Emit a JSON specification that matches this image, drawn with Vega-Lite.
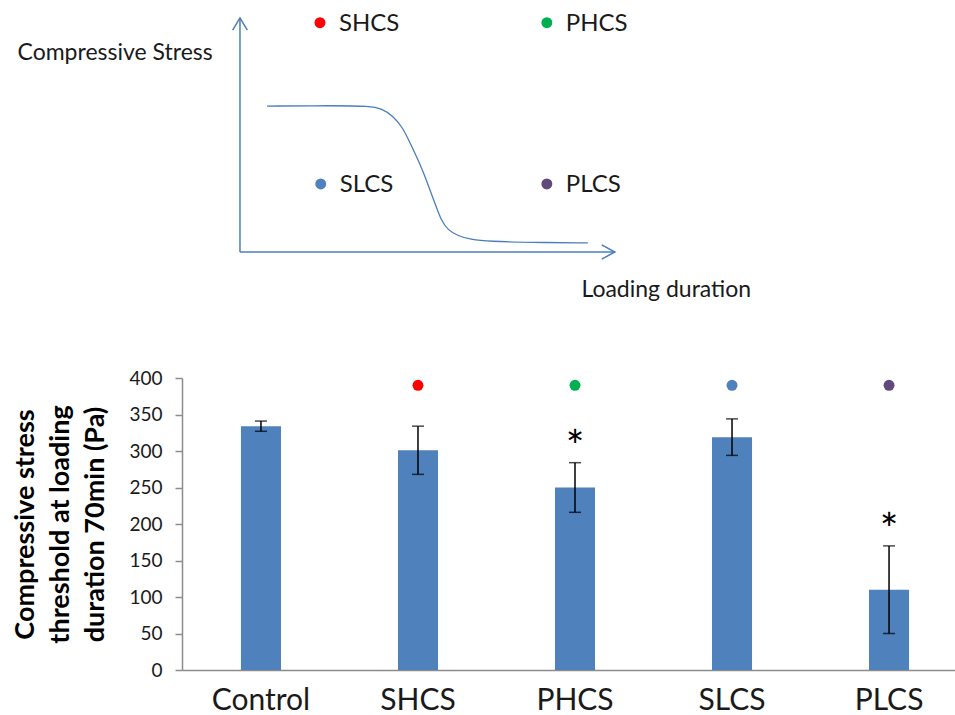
{
  "$schema": "https://vega.github.io/schema/vega-lite/v6.json",
  "padding": {"left": 11, "top": 0, "right": 0, "bottom": 0},
  "spacing": 0,
  "bounds": "flush",
  "config": {
    "view": {"stroke": null},
    "font": "Lato",
    "axisY": {
      "grid": false, "labelOverlap": false,
      "labelFontSize": 19, "labelColor": "#1a1a1a", "labelPadding": 13,
      "tickSize": 7, "tickColor": "#8c8c8c", "tickWidth": 1.5,
      "domainColor": "#8c8c8c", "domainWidth": 1.5,
      "titleFontSize": 27, "titleFontWeight": "bold", "titleColor": "#000000",
      "titleLineHeight": 35, "titleBaseline": "alphabetic", "titleAlign": "center",
      "titleX": -149, "titleY": 146, "titleAngle": -90
    }
  },
  "datasets": {
    "schematic": [
      {"part": "y-axis", "ord": 1, "t": 0, "s": 0},
      {"part": "y-axis", "ord": 2, "t": 0, "s": 92.9},
      {"part": "y-head", "ord": 1, "t": -1.9, "s": 88.0},
      {"part": "y-head", "ord": 2, "t": 0, "s": 92.9},
      {"part": "y-head", "ord": 3, "t": 1.9, "s": 88.0},
      {"part": "x-axis", "ord": 1, "t": 0, "s": 0},
      {"part": "x-axis", "ord": 2, "t": 97.0, "s": 0},
      {"part": "x-head", "ord": 1, "t": 93.6, "s": 2.8},
      {"part": "x-head", "ord": 2, "t": 97.0, "s": 0},
      {"part": "x-head", "ord": 3, "t": 93.6, "s": -2.8}
    ],
    "curve": [
      {"ord": 1, "t": 7.0, "s": 57.9},
      {"ord": 2, "t": 24.1, "s": 58.1},
      {"ord": 3, "t": 33.6, "s": 57.9},
      {"ord": 4, "t": 36.7, "s": 56.9},
      {"ord": 5, "t": 39.6, "s": 54.0},
      {"ord": 6, "t": 42.2, "s": 49.2},
      {"ord": 7, "t": 44.0, "s": 43.3},
      {"ord": 8, "t": 46.6, "s": 34.9},
      {"ord": 9, "t": 48.6, "s": 27.0},
      {"ord": 10, "t": 50.5, "s": 19.1},
      {"ord": 11, "t": 52.0, "s": 12.7},
      {"ord": 12, "t": 53.8, "s": 8.7},
      {"ord": 13, "t": 56.4, "s": 6.4},
      {"ord": 14, "t": 59.5, "s": 5.0},
      {"ord": 15, "t": 64.7, "s": 4.2},
      {"ord": 16, "t": 75.0, "s": 3.8},
      {"ord": 17, "t": 90.0, "s": 3.6}
    ],
    "regimes": [
      {"group": "SHCS", "t": 20.7, "s": 91.0},
      {"group": "PHCS", "t": 79.4, "s": 91.0},
      {"group": "SLCS", "t": 20.9, "s": 27.0},
      {"group": "PLCS", "t": 79.4, "s": 27.0}
    ],
    "captions": [
      {"caption": "Compressive Stress", "t": -32.3, "s": 76.2},
      {"caption": "Loading duration", "t": 110.3, "s": -17.9}
    ],
    "threshold": [
      {"group": "Control", "stress": 334, "low": 327, "high": 341, "sig": ""},
      {"group": "SHCS", "stress": 301, "low": 268, "high": 334, "sig": ""},
      {"group": "PHCS", "stress": 250, "low": 216, "high": 284, "sig": "*"},
      {"group": "SLCS", "stress": 319, "low": 294, "high": 344, "sig": ""},
      {"group": "PLCS", "stress": 110, "low": 50, "high": 170, "sig": "*"}
    ]
  },
  "vconcat": [
    {
      "width": 773,
      "height": 378,
      "layer": [
        {
          "data": {"name": "schematic"},
          "mark": {"type": "line", "color": "#4A7EBB", "strokeWidth": 1.5},
          "encoding": {
            "x": {"field": "t", "type": "quantitative", "scale": {"domain": [-15, 185], "nice": false, "zero": false}, "axis": null},
            "y": {"field": "s", "type": "quantitative", "scale": {"domain": [-50, 100], "nice": false, "zero": false}, "axis": null},
            "detail": {"field": "part"},
            "order": {"field": "ord"}
          }
        },
        {
          "data": {"name": "curve"},
          "mark": {"type": "line", "color": "#4A7EBB", "strokeWidth": 1.3, "interpolate": "basis"},
          "encoding": {
            "x": {"field": "t", "type": "quantitative"},
            "y": {"field": "s", "type": "quantitative"},
            "order": {"field": "ord"}
          }
        },
        {
          "data": {"name": "regimes"},
          "mark": {"type": "circle", "size": 120, "opacity": 1},
          "encoding": {
            "x": {"field": "t", "type": "quantitative"},
            "y": {"field": "s", "type": "quantitative"},
            "color": {
              "field": "group", "type": "nominal", "legend": null,
              "scale": {"domain": ["SHCS", "PHCS", "SLCS", "PLCS"], "range": ["#FF0000", "#00B050", "#4F81BD", "#604A7B"]}
            }
          }
        },
        {
          "data": {"name": "regimes"},
          "mark": {"type": "text", "align": "left", "baseline": "middle", "dx": 19, "dy": 1, "fontSize": 24, "color": "#1a1a1a"},
          "encoding": {
            "x": {"field": "t", "type": "quantitative"},
            "y": {"field": "s", "type": "quantitative"},
            "text": {"field": "group"}
          }
        },
        {
          "data": {"name": "captions"},
          "mark": {"type": "text", "align": "center", "baseline": "alphabetic", "fontSize": 23, "color": "#1a1a1a"},
          "encoding": {
            "x": {"field": "t", "type": "quantitative"},
            "y": {"field": "s", "type": "quantitative"},
            "text": {"field": "caption"}
          }
        }
      ]
    },
    {
      "width": 773,
      "height": 292,
      "data": {"name": "threshold"},
      "encoding": {
        "x": {
          "field": "group", "type": "nominal", "sort": null,
          "scale": {"paddingInner": 0.745, "paddingOuter": 0.334, "align": 0.562},
          "axis": {
            "title": null, "labelAngle": 0, "labelFontSize": 30, "labelColor": "#1a1a1a",
            "ticks": false, "tickSize": 0, "labelPadding": 15,
            "domainColor": "#8c8c8c", "domainWidth": 1.5
          }
        }
      },
      "layer": [
        {
          "mark": {"type": "bar", "color": "#4F81BD"},
          "encoding": {
            "y": {
              "field": "stress", "type": "quantitative",
              "scale": {"domain": [0, 400], "nice": false},
              "axis": {
                "values": [0, 50, 100, 150, 200, 250, 300, 350, 400],
                "title": ["Compressive stress", "threshold at loading", "duration 70min (Pa)"]
              }
            }
          }
        },
        {
          "mark": {
            "type": "errorbar",
            "ticks": {"size": 12, "thickness": 1.5, "color": "#000000"},
            "rule": {"strokeWidth": 1.5, "color": "#000000"}
          },
          "encoding": {
            "y": {
              "field": "low", "type": "quantitative",
              "axis": {
                "values": [0, 50, 100, 150, 200, 250, 300, 350, 400],
                "title": ["Compressive stress", "threshold at loading", "duration 70min (Pa)"]
              }
            },
            "y2": {"field": "high"}
          }
        },
        {
          "mark": {"type": "text", "baseline": "middle", "dy": -14, "fontSize": 44, "color": "#000000"},
          "encoding": {
            "y": {
              "field": "high", "type": "quantitative",
              "axis": {
                "values": [0, 50, 100, 150, 200, 250, 300, 350, 400],
                "title": ["Compressive stress", "threshold at loading", "duration 70min (Pa)"]
              }
            },
            "text": {"field": "sig"}
          }
        },
        {
          "transform": [{"filter": "datum.group != 'Control'"}],
          "mark": {"type": "circle", "size": 120, "opacity": 1},
          "encoding": {
            "y": {
              "datum": 390, "type": "quantitative",
              "axis": {
                "values": [0, 50, 100, 150, 200, 250, 300, 350, 400],
                "title": ["Compressive stress", "threshold at loading", "duration 70min (Pa)"]
              }
            },
            "color": {
              "field": "group", "type": "nominal", "legend": null,
              "scale": {"domain": ["SHCS", "PHCS", "SLCS", "PLCS"], "range": ["#FF0000", "#00B050", "#4F81BD", "#604A7B"]}
            }
          }
        }
      ]
    }
  ]
}
